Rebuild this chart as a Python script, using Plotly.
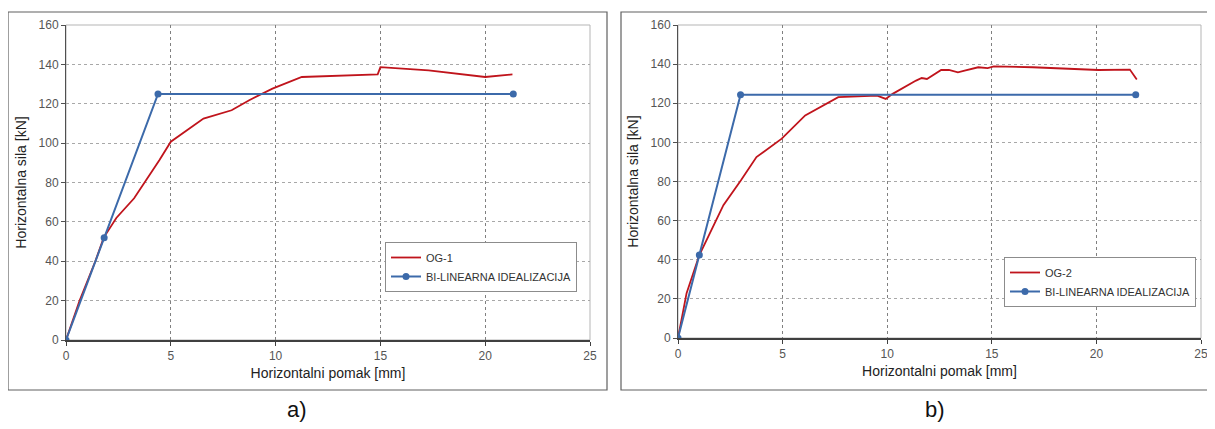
import plotly.graph_objects as go

# ---- data ----
og1_x = [0, 0.65, 1.4, 1.8, 2.4, 3.25, 4.46, 5.0, 6.56, 7.25, 7.9, 8.74, 9.85, 11.25, 14.87, 15.0, 17.3, 20.0, 21.3]
og1_y = [0, 20, 40, 52, 62, 72, 91.4, 100.7, 112.5, 114.5, 116.7, 121.8, 127.7, 133.6, 134.9, 138.6, 137, 133.6, 134.9]
bil1_x = [0, 1.82, 4.39, 21.34]
bil1_y = [0, 52, 125, 125]

og2_x = [0, 0.41, 1.02, 1.52, 2.17, 3.01, 3.75, 4.96, 6.08, 7.66, 9.52, 9.93, 10.26, 11.38, 11.65, 11.9,
         12.58, 12.95, 13.38, 13.7, 14.35, 14.8, 15.1, 16.95, 20.1, 21.6, 21.93]
og2_y = [0, 22.9, 42.4, 53.5, 67.9, 80.6, 92.5, 101.9, 113.8, 123.1, 123.9, 122.2, 124.8, 131.6, 132.9, 132.4,
         137, 137, 135.8, 136.7, 138.4, 138, 138.9, 138.4, 137, 137.2, 132.1]
bil2_x = [0, 1.02, 2.99, 21.88]
bil2_y = [0, 42.4, 124.4, 124.4]

x_ticks = [0, 5, 10, 15, 20, 25]
y_ticks = [0, 20, 40, 60, 80, 100, 120, 140, 160]
x_title = "Horizontalni pomak [mm]"
y_title = "Horizontalna sila [kN]"
names1 = ["OG-1", "BI-LINEARNA IDEALIZACIJA"]
names2 = ["OG-2", "BI-LINEARNA IDEALIZACIJA"]
panel_labels = ["a)", "b)"]

RED = "#C0141C"
BLUE = "#3C6AAA"
FONT = "Liberation Sans, Arial, sans-serif"

# the page body has an 8px margin, so the figure is drawn 8px right/down
OFF = 8
W, H = 1215 - OFF, 429 - OFF
fig = go.Figure()

fig.add_trace(go.Scatter(x=og1_x, y=og1_y, mode="lines", name=names1[0],
                         line=dict(color=RED, width=1.8), xaxis="x", yaxis="y", legend="legend"))
fig.add_trace(go.Scatter(x=bil1_x, y=bil1_y, mode="lines+markers", name=names1[1],
                         line=dict(color=BLUE, width=2), marker=dict(color=BLUE, size=7),
                         xaxis="x", yaxis="y", legend="legend"))
fig.add_trace(go.Scatter(x=og2_x, y=og2_y, mode="lines", name=names2[0],
                         line=dict(color=RED, width=1.8), xaxis="x2", yaxis="y2", legend="legend2"))
fig.add_trace(go.Scatter(x=bil2_x, y=bil2_y, mode="lines+markers", name=names2[1],
                         line=dict(color=BLUE, width=2), marker=dict(color=BLUE, size=7),
                         xaxis="x2", yaxis="y2", legend="legend2"))

def px_x(p):
    return (p - OFF) / W

def px_y(p):
    return 1 - (p - OFF) / H

xd1 = [px_x(66), px_x(590)]
xd2 = [px_x(678), px_x(1201)]
yd1 = [px_y(340), px_y(25)]
yd2 = [px_y(338), px_y(25)]

tickfont = dict(family=FONT, size=12, color="#555555")
titlefont = dict(family=FONT, size=14, color="#222222")

def xaxis(domain, anchor):
    return dict(domain=domain, anchor=anchor, range=[0, 25], tickvals=x_ticks,
                showgrid=True, gridcolor="#808080", griddash="dot", gridwidth=1,
                showline=True, linecolor="#404040", linewidth=2,
                ticks="outside", ticklen=4, tickcolor="#404040",
                tickfont=tickfont, title=dict(text=x_title, font=titlefont, standoff=6),
                zeroline=False, fixedrange=True, automargin=False)

def yaxis(domain, anchor):
    return dict(domain=domain, anchor=anchor, range=[0, 160], tickvals=y_ticks,
                showgrid=True, gridcolor="#a8a8a8", griddash="dot", gridwidth=1,
                showline=True, linecolor="#505050", linewidth=1,
                ticks="outside", ticklen=4, tickcolor="#505050",
                tickfont=tickfont, title=dict(text=y_title, font=titlefont, standoff=8),
                zeroline=False, fixedrange=True, automargin=False)

legfont = dict(family=FONT, size=11, color="#333333")

fig.update_layout(
    width=W, height=H,
    margin=dict(l=0, r=0, t=0, b=0, autoexpand=False),
    paper_bgcolor="white", plot_bgcolor="white",
    xaxis=xaxis(xd1, "y"), yaxis=yaxis(yd1, "x"),
    xaxis2=xaxis(xd2, "y2"), yaxis2=yaxis(yd2, "x2"),
    legend=dict(x=px_x(385), y=px_y(242), xanchor="left", yanchor="top",
                bgcolor="white", bordercolor="#8c8c8c", borderwidth=1,
                font=legfont, itemwidth=30, tracegroupgap=2),
    legend2=dict(x=px_x(1004), y=px_y(257), xanchor="left", yanchor="top",
                 bgcolor="white", bordercolor="#8c8c8c", borderwidth=1,
                 font=legfont, itemwidth=30, tracegroupgap=2),
    showlegend=True,
)

shapes = []
# panel frames
for x0, x1 in [(8, 607), (621, 1212)]:
    shapes.append(dict(type="rect", xref="paper", yref="paper",
                       x0=px_x(x0), x1=px_x(x1), y0=px_y(390), y1=px_y(12),
                       line=dict(color="#606060", width=1.2), layer="below"))
# plot-area light border (top/right)
for xd, yd in [(xd1, yd1), (xd2, yd2)]:
    shapes.append(dict(type="rect", xref="paper", yref="paper",
                       x0=xd[0], x1=xd[1], y0=yd[0], y1=yd[1],
                       line=dict(color="#b5b5b5", width=1), layer="below"))
fig.update_layout(shapes=shapes)

for lbl, xc in zip(panel_labels, [297, 935]):
    fig.add_annotation(text=lbl, x=px_x(xc), y=px_y(409), xref="paper", yref="paper",
                       showarrow=False, xanchor="center", yanchor="middle",
                       font=dict(family=FONT, size=22, color="#111111"))

fig.write_html("out.html")
